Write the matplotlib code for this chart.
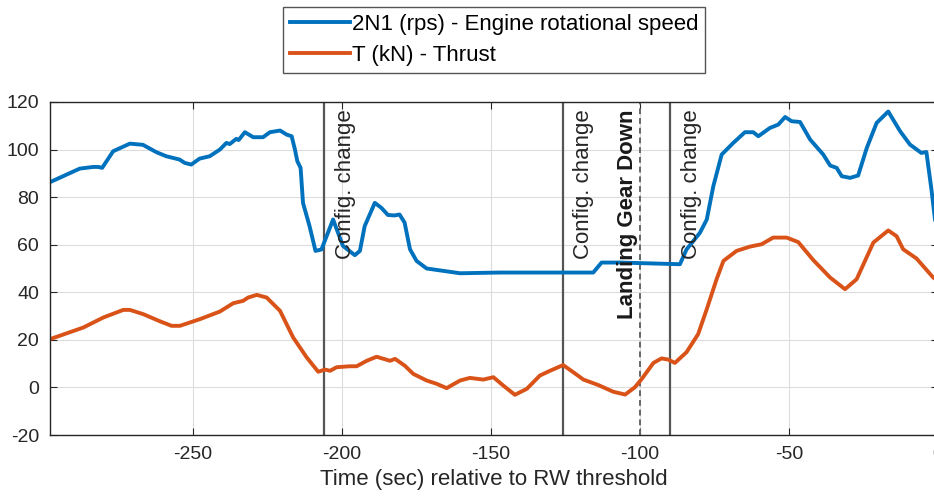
import numpy as np
import matplotlib
matplotlib.use("Agg")
import matplotlib.pyplot as plt

plt.rcParams['font.family'] = ['Liberation Sans', 'DejaVu Sans']
plt.rcParams['axes.unicode_minus'] = False

# 2N1 (rps) - engine rotational speed
n1_t = [-298, -292.4, -288, -283.5, -281.8, -280.5, -276.8, -271.2, -266.8, -262.3, -259, -254.5,
        -252.8, -250.6, -247.8, -244.4, -241, -238.8, -237.7, -235.5, -234.7, -232.6, -229.8,
        -226.5, -224.2, -220.8, -218.6, -216.9, -215.8, -215, -213.9, -213.1, -210.9, -208.9,
        -206.9, -203, -199.7, -195.7, -194, -192.4, -189, -186.8, -184.6, -182.4, -180.7, -179,
        -177.2, -175, -171.6, -166, -160.4, -147, -136, -126.9, -115.7, -112.9, -106.7, -86.6,
        -84.4, -79.9, -77.6, -75.4, -72.6, -68.7, -64.8, -62, -60.3, -56.4, -53.6, -51.3, -49.1,
        -46.3, -42.9, -38.5, -36.2, -34, -32.3, -29.5, -26.8, -23.9, -20.6, -16.7, -12.7, -9.4,
        -5.6, -3.9, -2.2, 0]
n1_v = [86.3, 89.5, 92, 92.7, 92.7, 92.3, 99.3, 102.5, 102, 98.9, 97.2, 95.8,
        94.4, 93.7, 96.2, 97.2, 100, 102.8, 102.3, 104.5, 104, 107.3, 105.2,
        105.2, 107.3, 108, 106.3, 105.6, 100, 95.1, 92.3, 77.6, 67.8, 57.4,
        58, 70.6, 59.5, 55.6, 57.4, 67.8, 77.6, 75.5, 72.5, 72.3, 72.7, 69.3,
        58.1, 53.2, 50, 49, 48, 48.3, 48.3, 48.3, 48.3, 52.5, 52.5, 51.8,
        58, 65, 70.6, 84.6, 97.9, 102.8, 107.3, 107.3, 105.6, 109.1, 110.5, 113.7, 111.9,
        111.6, 104.2, 97.9, 93.3, 92.3, 88.8, 88.1, 89.1, 100.7, 111.2, 116, 107.7, 102.1,
        98.6, 99, 83.2, 60]

# T (kN) - thrust
thr_t = [-298, -286.8, -280.1, -273.4, -271.2, -266.7, -261.1, -257.2, -254.4, -247.7, -241,
         -236.5, -233.2, -231.5, -228.6, -225.3, -220.8, -216.4, -211.9, -208, -205.7, -204,
         -201.8, -197.3, -195.1, -191.7, -188.4, -183.9, -182.2, -178.9, -176.1, -171.6, -168.2,
         -164.9, -160.4, -157.1, -152.6, -149.2, -145.9, -142, -138, -133.6, -130.2, -125.8,
         -122.4, -119, -114, -109, -105, -101.7, -99.4, -95.5, -92.8, -90.5, -88.3, -84.4,
         -80.5, -77.6, -74.3, -72, -67.6, -63.1, -59.2, -55.3, -50.8, -46.9, -41.9, -36.2,
         -31.2, -27.3, -21.7, -16.7, -13.9, -11.7, -7.2, -1.6, 0]
thr_v = [20.3, 25.2, 29.4, 32.6, 32.6, 30.8, 27.8, 25.9, 25.9, 28.7, 31.9,
         35.4, 36.4, 37.8, 38.9, 37.8, 32.2, 21, 12.7, 6.6, 7.5, 7,
         8.5, 8.9, 8.9, 11.2, 12.9, 11.2, 12, 9.1, 5.7, 2.9, 1.5,
         -0.3, 2.9, 4, 3.3, 4.3, 0.8, -3.1, -0.6, 5, 7, 9.4,
         6.4, 3.3, 1, -1.8, -3, 0.1, 3.6, 10.3, 12.2, 11.7, 10.3, 14.8,
         22.4, 32.9, 45.5, 53.2, 57.4, 59.2, 60.2, 63, 63, 61.1, 53.6, 46.2,
         41.3, 45.5, 60.9, 66, 63.6, 58.1, 54.2, 46.2, 45]

config_times = [-206, -126, -90]
gear_time = -100

fig = plt.figure(figsize=(9.34, 5.0), dpi=100)
ax = fig.add_axes([50 / 934, 65 / 500, 888 / 934, 333 / 500])

l1, = ax.plot(n1_t, n1_v, color='#0072BD', lw=2.8, label='2N1 (rps) - Engine rotational speed')
l2, = ax.plot(thr_t, thr_v, color='#D95319', lw=2.8, label='T (kN) - Thrust')

for t in config_times:
    ax.axvline(t, color='#555555', lw=1.6, zorder=1)
    ax.text(t + 3.6, 117, 'Config. change', rotation=90, ha='left', va='top',
            fontsize=16, color='#262626')
ax.axvline(gear_time, color='#666666', lw=1.4, ls=(0, (3, 2)), zorder=1)
ax.text(gear_time - 7.6, 117, 'Landing Gear Down', rotation=90, ha='left', va='top',
        fontsize=16, fontweight='bold', color='#1a1a1a')

ax.set_xlim(-298, 0)
ax.set_ylim(-20, 120)
ax.set_xticks(np.arange(-250, 1, 50))
ax.set_yticks(np.arange(-20, 121, 20))
ax.grid(True, color='#dcdcdc', lw=0.8)
ax.set_axisbelow(True)
ax.tick_params(direction='in', top=True, right=True, length=5, labelsize=14,
               colors='#262626', pad=8)
for s in ax.spines.values():
    s.set_color('#262626')
    s.set_linewidth(1.0)
ax.set_xlabel('Time (sec) relative to RW threshold', fontsize=16, color='#262626', labelpad=4)

fig.legend(handles=[l1, l2], loc='upper center', bbox_to_anchor=(0.529, 0.985),
           fontsize=16, frameon=True, fancybox=False, edgecolor='#555555', framealpha=1,
           handlelength=2.7, handletextpad=0.1, borderpad=0.3, labelspacing=0.45,
           borderaxespad=0)

fig.savefig('out.png', dpi=100)
